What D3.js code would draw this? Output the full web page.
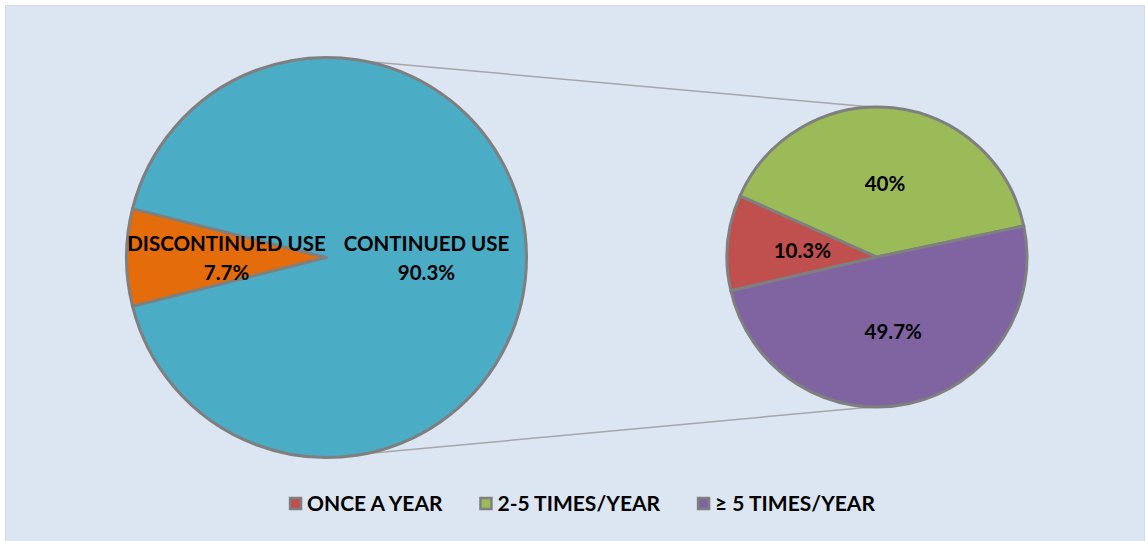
<!DOCTYPE html>
<html lang="en">
<head>
<meta charset="utf-8">
<title>Pie of pie</title>
<script src="https://d3js.org/d3.v7.min.js"></script>
<style>
  body { margin: 0; background: #ffffff; }
  svg text { font-family: Lato, "Open Sans", sans-serif; font-weight: bold; fill: #000; }
</style>
</head>
<body>
<div id="chart"></div>
<script>
// data
var mainLabels = ["DISCONTINUED USE", "CONTINUED USE"];
var mainValues = [7.7, 90.3];
var mainColors = ["#e46c0a", "#4bacc6"];

var subLabels = ["ONCE A YEAR", "2-5 TIMES/YEAR", "\u2265 5 TIMES/YEAR"];
var subValues = [10.3, 40, 49.7];
var subColors = ["#c0504d", "#9bbb59", "#8064a2"];

var W = 1145, H = 541;
var rad = Math.PI / 180;

var svg = d3.select("#chart").append("svg")
    .attr("width", W)
    .attr("height", H);

// plot area
svg.append("rect")
    .attr("x", 5.5).attr("y", 5.5)
    .attr("width", W - 6).attr("height", H - 4)
    .attr("fill", "#dce6f2")
    .attr("stroke", "#d9d9d9")
    .attr("stroke-width", 1);

var left = {cx: 326.5, cy: 257.5, r: 200};
var right = {cx: 877, cy: 257, r: 150};

// connector lines (drawn under the pies)
function onCircle(c, deg) {
  return [c.cx + c.r * Math.sin(deg * rad), c.cy - c.r * Math.cos(deg * rad)];
}
var links = [[onCircle(left, 11), onCircle(right, -2)], [onCircle(left, 169), onCircle(right, 182)]];
svg.selectAll(".link")
  .data(links)
  .enter().append("line")
    .attr("class", "link")
    .attr("x1", function(d) { return d[0][0]; })
    .attr("y1", function(d) { return d[0][1]; })
    .attr("x2", function(d) { return d[1][0]; })
    .attr("y2", function(d) { return d[1][1]; })
    .attr("stroke", "#a6a6a6")
    .attr("stroke-width", 1.5);

// left pie, small slice centred on 9 o'clock
var mainTotal = d3.sum(mainValues);
var half = Math.PI * mainValues[0] / mainTotal;
var mainPie = d3.pie().sort(null)
    .startAngle(-Math.PI / 2 - half)
    .endAngle(-Math.PI / 2 - half + 2 * Math.PI);
var mainArc = d3.arc().innerRadius(0).outerRadius(left.r);

var gl = svg.append("g").attr("transform", "translate(" + left.cx + "," + left.cy + ")");
var mainSlices = mainPie(mainValues);
gl.selectAll("path")
  .data(mainSlices)
  .enter().append("path")
    .attr("d", mainArc)
    .attr("fill", function(d, i) { return mainColors[i]; })
    .attr("stroke", "#7f7f7f")
    .attr("stroke-width", 3)
    .attr("stroke-linejoin", "round");

var mainLab = gl.selectAll(".lab")
  .data(mainSlices)
  .enter().append("text")
    .attr("class", "lab")
    .attr("text-anchor", "middle")
    .style("font-size", "20.5px")
    .attr("transform", function(d) { var c = mainArc.centroid(d); return "translate(" + c[0] + "," + c[1] + ")"; });
mainLab.append("tspan").attr("x", 0).attr("y", -6.5)
    .text(function(d, i) { return mainLabels[i]; });
mainLab.append("tspan").attr("x", 0).attr("y", 22)
    .text(function(d, i) { return mainValues[i] + "%"; });

// right pie
var subPie = d3.pie().sort(null)
    .startAngle(-103 * rad)
    .endAngle(-103 * rad + 2 * Math.PI);
var subArc = d3.arc().innerRadius(0).outerRadius(right.r);

var gr = svg.append("g").attr("transform", "translate(" + right.cx + "," + right.cy + ")");
var subSlices = subPie(subValues);
gr.selectAll("path")
  .data(subSlices)
  .enter().append("path")
    .attr("d", subArc)
    .attr("fill", function(d, i) { return subColors[i]; })
    .attr("stroke", "#7f7f7f")
    .attr("stroke-width", 3)
    .attr("stroke-linejoin", "round");

gr.selectAll(".lab")
  .data(subSlices)
  .enter().append("text")
    .attr("class", "lab")
    .attr("text-anchor", "middle")
    .attr("dy", "0.36em")
    .style("font-size", "20.5px")
    .attr("transform", function(d) { var c = subArc.centroid(d); return "translate(" + c[0] + "," + (c[1] + 1) + ")"; })
    .text(function(d, i) { return subValues[i] + "%"; });

// legend
var legend = svg.append("g").attr("transform", "translate(0,503)");
var items = legend.selectAll(".item")
  .data(subLabels)
  .enter().append("g")
    .attr("class", "item");
items.append("rect")
    .attr("x", 1).attr("y", -5)
    .attr("width", 11).attr("height", 11)
    .attr("fill", function(d, i) { return subColors[i]; })
    .attr("stroke", "#7f7f7f")
    .attr("stroke-width", 2.5);
items.append("text")
    .attr("x", 18)
    .attr("dy", "0.36em")
    .style("font-size", "21px")
    .text(function(d) { return d; });

var gap = 37, xpos = 0, widths = [];
items.each(function() { widths.push(d3.select(this).select("text").node().getComputedTextLength() + 18); });
var totalW = d3.sum(widths) + gap * (widths.length - 1);
xpos = 582 - totalW / 2;
items.attr("transform", function(d, i) {
  var x = xpos; xpos += widths[i] + gap;
  return "translate(" + x + ",0)";
});
</script>
</body>
</html>
